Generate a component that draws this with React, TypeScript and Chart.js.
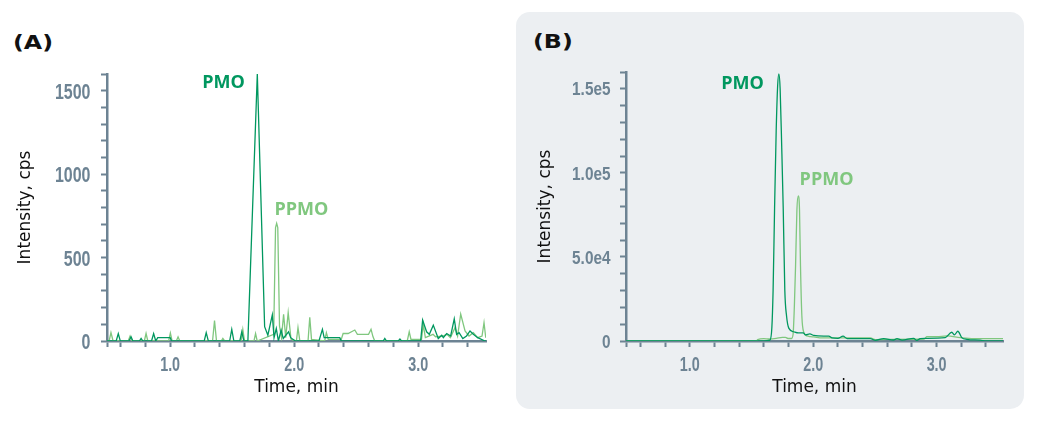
import { useEffect, useRef } from 'react';
import { Chart, registerables } from 'chart.js';

Chart.register(...registerables);

// ---- data ----
// (A) low-level chromatogram, cps
const pmoTimeA = [0.491, 0.565, 0.582, 0.598, 0.668, 0.685, 0.700, 0.752, 0.766, 0.780, 0.850, 0.867, 0.884, 0.900, 1.000, 1.012, 1.275, 1.291, 1.308, 1.480, 1.497, 1.514, 1.562, 1.578, 1.595, 1.627, 1.703, 1.762, 1.788, 1.824, 1.838, 1.856, 1.873, 1.895, 1.912, 1.955, 1.972, 2.010, 2.200, 2.228, 2.242, 2.368, 2.380, 2.718, 2.731, 2.745, 2.840, 2.853, 2.866, 3.020, 3.036, 3.068, 3.090, 3.122, 3.162, 3.190, 3.203, 3.230, 3.262, 3.291, 3.310, 3.330, 3.360, 3.390, 3.418, 3.445, 3.480, 3.539, 3.547];
const pmoValA = [0, 0, 44, 0, 0, 25, 0, 0, 15, 0, 0, 44, 0, 20, 20, 0, 0, 50, 0, 0, 70, 0, 0, 55, 0, 0, 1600, 86, 35, 156, 20, 75, 0, 65, 15, 55, 20, 0, 0, 70, 20, 20, 0, 0, 15, 0, 0, 12, 0, 0, 125, 55, 40, 95, 15, 35, 20, 45, 30, 133, 40, 50, 15, 30, 60, 40, 20, 0, 0];
const ppmoTimeA = [0.491, 0.508, 0.523, 0.540, 0.662, 0.677, 0.692, 0.792, 0.806, 0.820, 0.988, 1.002, 1.016, 1.050, 1.064, 1.078, 1.342, 1.358, 1.374, 1.412, 1.425, 1.440, 1.572, 1.586, 1.600, 1.676, 1.689, 1.702, 1.835, 1.850, 1.859, 1.868, 1.882, 1.898, 1.915, 1.932, 1.952, 1.975, 2.018, 2.031, 2.046, 2.112, 2.126, 2.140, 2.246, 2.260, 2.275, 2.380, 2.395, 2.435, 2.489, 2.510, 2.600, 2.620, 2.636, 2.650, 2.912, 2.928, 2.942, 2.990, 3.027, 3.041, 3.058, 3.120, 3.140, 3.200, 3.232, 3.260, 3.297, 3.318, 3.343, 3.378, 3.410, 3.445, 3.480, 3.515, 3.531, 3.545];
const ppmoValA = [0, 0, 50, 0, 0, 30, 0, 0, 45, 0, 0, 48, 0, 0, 25, 0, 0, 122, 0, 0, 15, 0, 0, 70, 0, 0, 45, 0, 40, 680, 705, 680, 90, 20, 160, 20, 170, 10, 0, 80, 0, 0, 142, 10, 0, 50, 10, 10, 45, 45, 66, 40, 40, 70, 25, 0, 0, 55, 10, 10, 10, 100, 20, 40, 25, 30, 40, 20, 80, 30, 161, 60, 30, 50, 20, 30, 110, 20];

// (B) high-level chromatogram, cps
const pmoTimeB = [0.483, 1.600, 1.649, 1.665, 1.675, 1.687, 1.700, 1.712, 1.722, 1.732, 1.745, 1.757, 1.770, 1.784, 1.803, 1.843, 1.880, 1.919, 1.938, 1.973, 2.005, 2.086, 2.126, 2.153, 2.200, 2.242, 2.275, 2.463, 2.504, 2.571, 2.650, 2.679, 2.720, 2.814, 2.840, 2.867, 2.908, 3.070, 3.123, 3.145, 3.172, 3.204, 3.245, 3.352, 3.406, 3.538];
const pmoValB = [0, 0, 500, 8000, 30000, 79000, 125000, 152000, 158800, 150000, 115000, 79000, 30000, 14900, 7500, 5500, 4800, 4800, 3600, 4200, 3300, 2900, 2900, 1800, 1600, 2900, 1400, 1400, 400, 1400, 600, 1400, 500, 1600, 300, 1400, 1600, 2000, 5200, 3700, 5800, 2000, 1000, 500, 0, 0];
const ppmoTimeB = [0.483, 1.540, 1.550, 1.600, 1.640, 1.700, 1.750, 1.775, 1.795, 1.825, 1.837, 1.847, 1.857, 1.868, 1.879, 1.889, 1.897, 1.908, 1.925, 1.950, 1.978, 2.005, 2.072, 2.221, 2.463, 2.504, 2.600, 2.900, 2.921, 3.002, 3.083, 3.191, 3.300, 3.538];
const ppmoValB = [0, 0, 800, 1400, 1200, 1500, 2200, 2200, 1500, 1500, 4000, 20000, 44600, 78000, 86300, 78000, 44600, 15000, 5000, 3000, 2600, 2400, 1800, 1800, 1800, 800, 1000, 1200, 2600, 2600, 3000, 2000, 1400, 1400];

// tick labels
const xLabelTimes = [1, 2, 3];
const yLabelsA = [0, 500, 1000, 1500];
const yLabelsB = [0, 50000, 100000, 150000];

const PMO_COLOR = '#00975f';
const PPMO_COLOR = '#80c77f';
const AXIS = '#6d8393';
const TEXT_FONT = "'DejaVu Sans', sans-serif";

const toPoints = (t: number[], v: number[]) => t.map((x, i) => ({ x, y: v[i] }));

// PMO / PPMO annotations, placed in data coordinates
const peakLabels = {
  id: 'peakLabels',
  afterDatasetsDraw(chart: any, _args: any, opts: any) {
    const { ctx, scales } = chart;
    ctx.save();
    ctx.font = "bold 18px 'Open Sans', sans-serif";
    ctx.textAlign = 'center';
    ctx.textBaseline = 'middle';
    for (const l of opts.items || []) {
      ctx.fillStyle = l.color;
      ctx.fillText(l.text, scales.x.getPixelForValue(l.x), scales.y.getPixelForValue(l.y));
    }
    ctx.restore();
  },
};

// the reference uses a condensed face for tick labels; squeeze Liberation Sans Bold
const condensedTicks = {
  id: 'condensedTicks',
  afterDraw(chart: any, _args: any, opts: any) {
    const { ctx, chartArea, scales } = chart;
    const draw = (text: string, x: number, y: number, size: number, sx: number, align: string) => {
      ctx.save();
      ctx.font = `bold ${size}px 'Liberation Sans', Arial, sans-serif`;
      ctx.textAlign = align;
      ctx.textBaseline = 'alphabetic';
      ctx.fillStyle = AXIS;
      ctx.translate(x, y);
      ctx.scale(sx, 1);
      ctx.fillText(text, 0, 0);
      ctx.restore();
    };
    scales.y.ticks.forEach((t: any, i: number) => {
      if (!t.label) return;
      const py = scales.y.getPixelForTick(i);
      draw(t.label, chartArea.left - opts.yGap, py + opts.ySize * 0.36, opts.ySize, opts.yScaleX, 'right');
    });
    scales.x.ticks.forEach((t: any, i: number) => {
      if (!t.label) return;
      const px = scales.x.getPixelForTick(i);
      draw(t.label, px, chartArea.bottom + 29.5, 20.5, 0.7, 'center');
    });
  },
};

interface PanelProps {
  pmoT: number[]; pmoV: number[]; ppmoT: number[]; ppmoV: number[];
  xMin: number; xMax: number; yMax: number; yStep: number;
  yLabels: number[]; yFormat: (v: number) => string;
  ySize: number; yScaleX: number; yGap: number;
  yAxisWidth: number; yTitlePad: number; padTop: number; padRight: number;
  smooth: boolean;
  labels: { text: string; x: number; y: number; color: string }[];
}

function Chromatogram(p: PanelProps) {
  const ref = useRef<HTMLCanvasElement>(null);

  useEffect(() => {
    if (!ref.current) return;
    const line = (data: any, color: string) => ({
      data,
      borderColor: color,
      borderWidth: 1.3,
      pointRadius: 0,
      fill: false,
      tension: p.smooth ? 0.4 : 0,
      cubicInterpolationMode: p.smooth ? 'monotone' : 'default',
    });

    const chart = new Chart(ref.current, {
      type: 'line',
      data: {
        datasets: [
          line(toPoints(p.pmoT, p.pmoV), PMO_COLOR),
          line(toPoints(p.ppmoT, p.ppmoV), PPMO_COLOR),
        ],
      },
      options: {
        animation: false,
        responsive: true,
        maintainAspectRatio: false,
        events: [],
        layout: { padding: { top: p.padTop, right: p.padRight, left: 0, bottom: 0 } },
        plugins: {
          legend: { display: false },
          tooltip: { enabled: false },
          peakLabels: { items: p.labels },
          condensedTicks: { ySize: p.ySize, yScaleX: p.yScaleX, yGap: p.yGap },
        } as any,
        scales: {
          x: {
            type: 'linear',
            min: p.xMin,
            max: p.xMax,
            afterFit: (s: any) => { s.height = 82; },
            afterBuildTicks: (s: any) => { s.ticks.unshift({ value: s.min }); },
            border: { display: true, color: AXIS, width: 2.5 },
            grid: { drawOnChartArea: false, drawTicks: true, tickLength: 6, tickColor: AXIS, tickWidth: 2 },
            ticks: {
              display: false,
              stepSize: 0.2,
              includeBounds: false,
              autoSkip: false,
              maxRotation: 0,
              callback: (v: any) => xLabelTimes.some((t) => Math.abs(t - v) < 1e-6) ? Number(v).toFixed(1) : '',
            },
            title: {
              display: true,
              text: 'Time, min',
              color: '#111',
              font: { family: TEXT_FONT, size: 17 },
              padding: { top: 0, bottom: 25 },
            },
          },
          y: {
            type: 'linear',
            min: 0,
            max: p.yMax,
            afterFit: (s: any) => { s.width = p.yAxisWidth; },
            border: { display: true, color: AXIS, width: 2.5 },
            grid: { drawOnChartArea: false, drawTicks: true, tickLength: 6, tickColor: AXIS, tickWidth: 2 },
            ticks: {
              display: false,
              stepSize: p.yStep,
              autoSkip: false,
              callback: (v: any) => p.yLabels.includes(Number(v)) ? p.yFormat(Number(v)) : '',
            },
            title: {
              display: true,
              text: 'Intensity, cps',
              color: '#111',
              font: { family: TEXT_FONT, size: 17 },
              padding: { top: p.yTitlePad, bottom: 0 },
            },
          },
        },
      },
      plugins: [peakLabels, condensedTicks],
    } as any);

    return () => chart.destroy();
  }, []);

  return <canvas ref={ref} />;
}

const panelLetter: React.CSSProperties = {
  position: 'absolute',
  font: "bold 19px 'DejaVu Sans', sans-serif",
  lineHeight: '19px',
  color: '#111',
  transform: 'scaleX(1.25)',
  transformOrigin: 'left top',
};

export default function App() {
  return (
    <div style={{ position: 'absolute', left: 0, top: 0, width: 1040, height: 423, background: '#fff', overflow: 'hidden' }}>
      <div style={{ position: 'absolute', left: 516, top: 12, width: 508, height: 397, borderRadius: 14, background: '#eceff2' }} />
      <div style={{ ...panelLetter, left: 13, top: 33 }}>(A)</div>
      <div style={{ ...panelLetter, left: 533, top: 32 }}>(B)</div>
      <div style={{ position: 'absolute', left: 0, top: 0, width: 505, height: 423 }}>
        <Chromatogram
          pmoT={pmoTimeA} pmoV={pmoValA} ppmoT={ppmoTimeA} ppmoV={ppmoValA}
          xMin={0.491} xMax={3.547} yMax={1600} yStep={100}
          yLabels={yLabelsA} yFormat={(v) => String(v)}
          ySize={22.5} yScaleX={0.71} yGap={16.5}
          yAxisWidth={107} yTitlePad={15} padTop={74} padRight={19}
          smooth={false}
          labels={[
            { text: 'PMO', x: 1.43, y: 1544, color: PMO_COLOR },
            { text: 'PPMO', x: 2.058, y: 785, color: PPMO_COLOR },
          ]}
        />
      </div>
      <div style={{ position: 'absolute', left: 516, top: 0, width: 508, height: 423 }}>
        <Chromatogram
          pmoT={pmoTimeB} pmoV={pmoValB} ppmoT={ppmoTimeB} ppmoV={ppmoValB}
          xMin={0.483} xMax={3.538} yMax={160000} yStep={10000}
          yLabels={yLabelsB} yFormat={(v) => (v === 0 ? '0' : v.toExponential(1).replace('e+', 'e'))}
          ySize={18.5} yScaleX={0.83} yGap={15.5}
          yAxisWidth={110} yTitlePad={19} padTop={72} padRight={21}
          smooth={true}
          labels={[
            { text: 'PMO', x: 1.428, y: 153000, color: PMO_COLOR },
            { text: 'PPMO', x: 2.108, y: 95800, color: PPMO_COLOR },
          ]}
        />
      </div>
    </div>
  );
}
